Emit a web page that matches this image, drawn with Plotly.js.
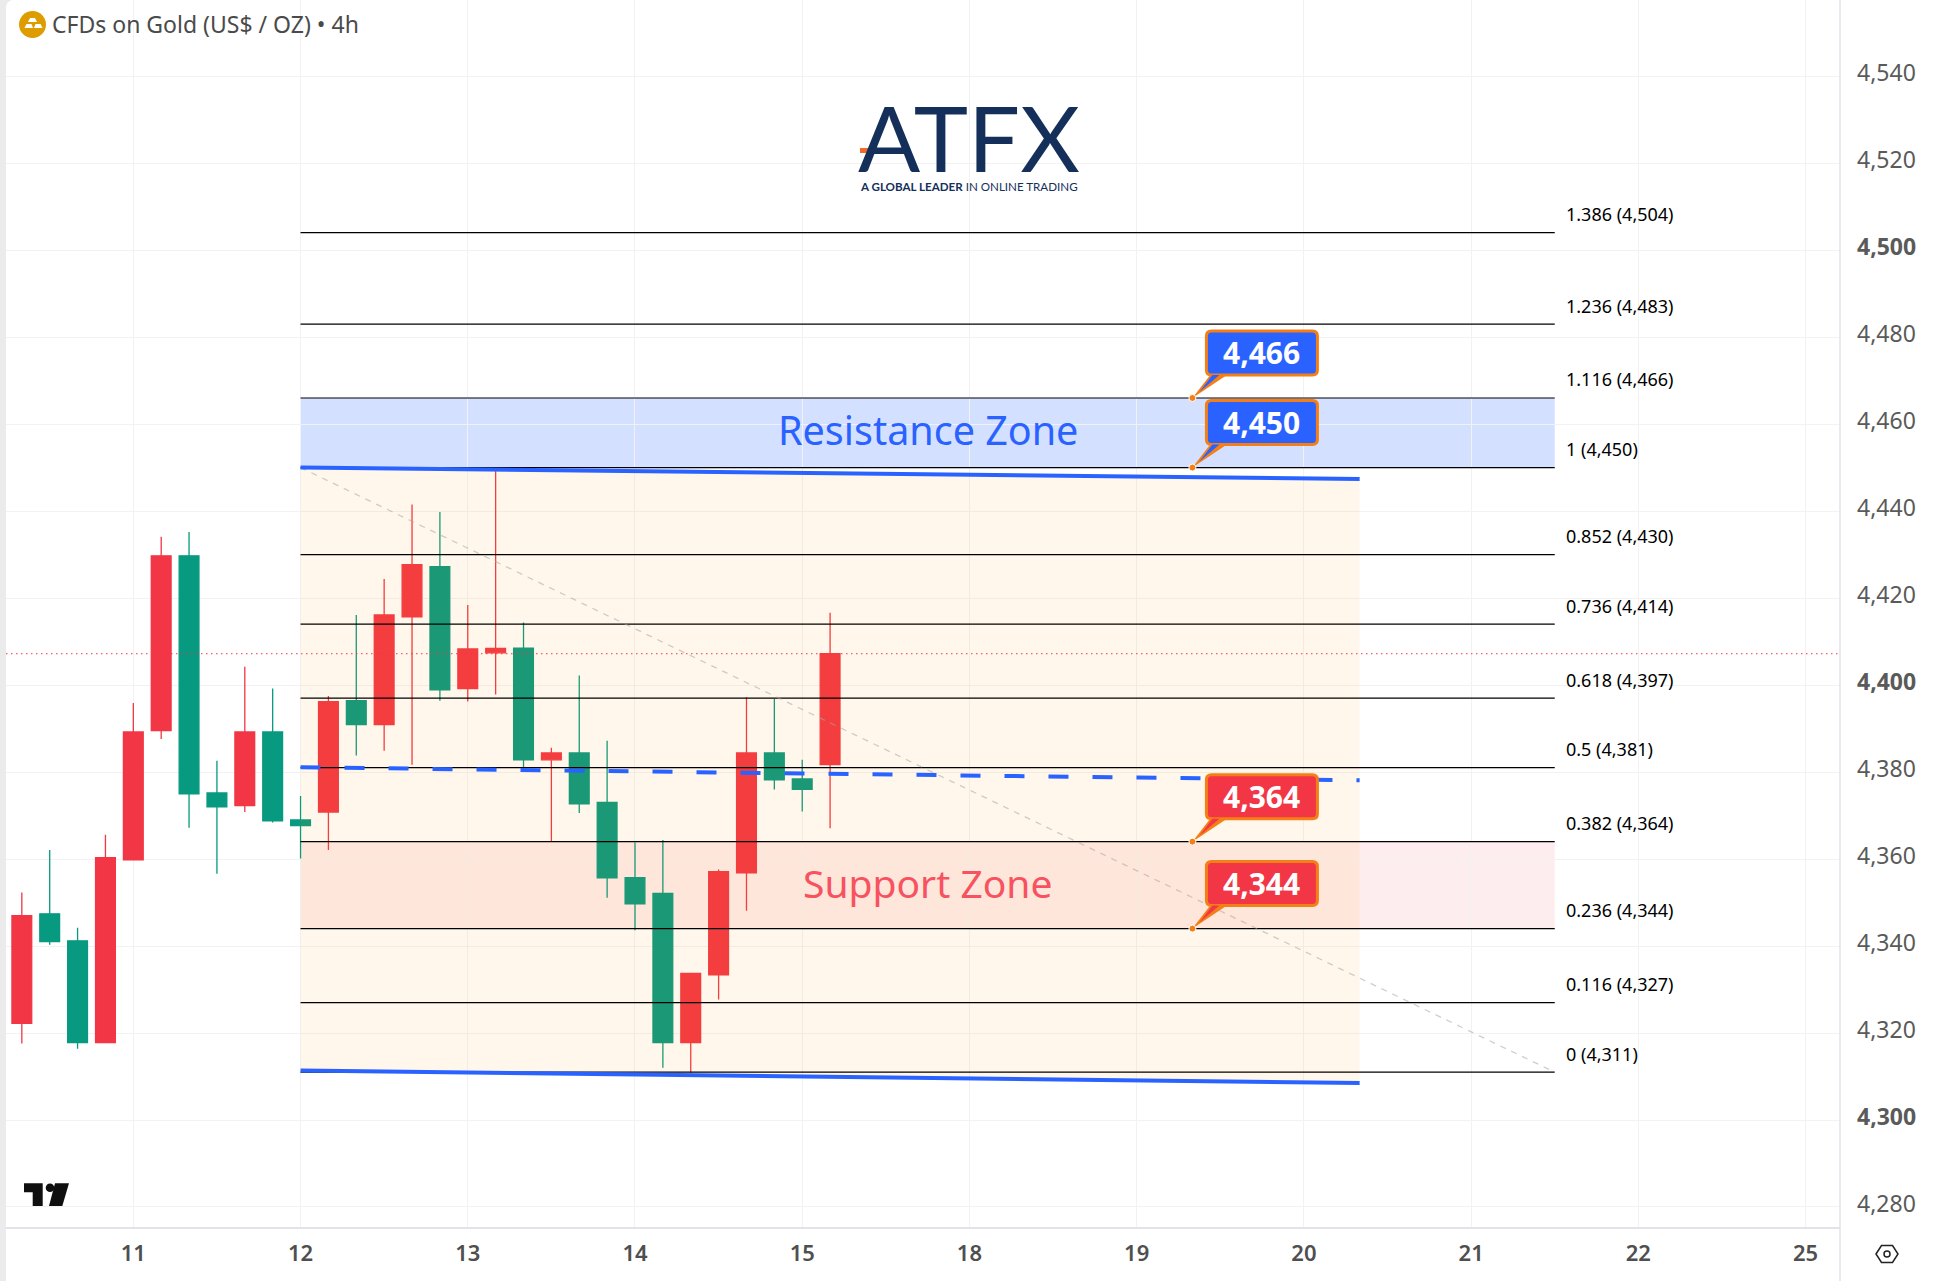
<!DOCTYPE html>
<html>
<head>
<meta charset="utf-8">
<script src="https://cdn.plot.ly/plotly-3.0.1.min.js"></script>
<style>
  html, body { margin: 0; padding: 0; background: #ebebeb; overflow: hidden; }
  #miDiv { position: absolute; left: 6px; top: 0; width: 1929px; height: 1281px; background: #fff; border-top-left-radius: 8px; overflow: hidden; }
  /* las etiquetas del eje y van un poco por encima de su linea */
  #miDiv .ytick { transform: translateY(-2.7px); }
</style>
</head>
<body>
<div id="miDiv"></div>
<script>
// velas de 4h, indice 0 = dia 11
const barIndex = [-4,-3,-2,-1,0,1,2,3,4,5,6,7,8,9,10,11,12,13,14,15,16,17,18,19,20,21,22,23,24,25];
const opens  = [4322.2,4347.4,4341.2,4317.8,4359.8,4389.5,4429.7,4375.2,4372.3,4389.2,4369.0,4370.8,4396.4,4390.9,4415.7,4427.2,4399.2,4407.4,4408.5,4382.8,4384.4,4373.0,4355.7,4352.1,4317.8,4333.4,4356.8,4384.4,4378.4,4381.7];
const highs  = [4352.3,4362.1,4344.2,4365.6,4395.9,4434.1,4435.2,4382.6,4404.2,4399.2,4374.5,4397.5,4416.1,4424.4,4441.5,4439.8,4418.4,4449.9,4414.4,4385.6,4402.2,4387.2,4363.8,4364.4,4333.7,4357.6,4397.2,4396.8,4382.8,4416.6];
const lows   = [4317.6,4340.3,4316.4,4317.8,4359.8,4387.6,4367.2,4356.6,4370.8,4368.4,4360.1,4362.1,4383.8,4384.9,4381.7,4396.4,4396.2,4397.8,4380.3,4364.1,4370.6,4351.1,4343.6,4312.0,4310.9,4327.7,4348.1,4376.0,4370.9,4367.1];
const closes = [4347.0,4341.0,4317.8,4360.3,4389.2,4429.7,4375.0,4372.0,4389.2,4368.8,4367.7,4396.2,4390.9,4416.1,4427.7,4398.9,4408.3,4408.4,4382.8,4384.4,4372.7,4355.7,4349.7,4317.8,4333.7,4357.1,4384.4,4378.2,4376.0,4407.2];
const lastPrice = 4407.2;

// ejes
const xTickVals = [0,6,12,18,24,30,36,42,48,54,60];
const xTickText = ['11','12','13','14','15','18','19','20','21','22','25'];
const yTickVals = [4280,4300,4320,4340,4360,4380,4400,4420,4440,4460,4480,4500,4520,4540];
const yTickText = ['4,280','<b>4,300</b>','4,320','4,340','4,360','4,380','<b>4,400</b>','4,420','4,440','4,460','4,480','<b>4,500</b>','4,520','4,540'];

// fibonacci
const fibRatios = ['1.386','1.236','1.116','1','0.852','0.736','0.618','0.5','0.382','0.236','0.116','0'];
const fibPrices = [4504,4483,4466,4450,4430,4414,4397,4381,4364,4344,4327,4311];
const fibX = [6,51];

// canal
const channelX = [6,44];
const channelTop = [4450,4447.4];
const channelMid = [4381.1,4378.1];
const channelBottom = [4311.4,4308.5];

// zonas
const resistanceZone = [4450,4466];
const supportZone = [4344,4364];

// etiquetas
const calloutPrices = [4466,4450,4364,4344];
const calloutText = ['4,466','4,450','4,364','4,344'];
const calloutColors = ['#2962ff','#2962ff','#f23645','#f23645'];
const calloutX = 38.0;

const AZUL = '#2962ff';
const ROJO = '#f23645';
const VERDE = '#089981';
const NARANJA = '#f57f17';
const FUENTE = '"Noto Sans", sans-serif';
const xMin = -4.568, xMax = 61.235;

var data = [];

// fondo del canal
data.push({
  x: channelX.concat(channelX.slice().reverse()),
  y: channelTop.concat(channelBottom.slice().reverse()),
  mode: 'lines', fill: 'toself', fillcolor: 'rgba(255,152,0,0.08)',
  line: {width: 0}, hoverinfo: 'skip'
});

// niveles fib
for (let i = 0; i < fibPrices.length; i++) {
  data.push({
    x: fibX, y: [fibPrices[i], fibPrices[i]], mode: 'lines',
    line: {color: '#000', width: 1.2}, hoverinfo: 'skip'
  });
}

// linea de tendencia del fib
data.push({
  x: fibX, y: [fibPrices[3], fibPrices[11]], mode: 'lines',
  line: {color: 'rgba(170,165,165,0.55)', width: 1.3, dash: '6px,6px'}, hoverinfo: 'skip'
});

// precio actual
data.push({
  x: [xMin, xMax], y: [lastPrice, lastPrice], mode: 'lines',
  line: {color: ROJO, width: 1, dash: '1.5px,3.5px'}, hoverinfo: 'skip'
});

// lineas del canal
data.push({x: channelX, y: channelTop, mode: 'lines', line: {color: AZUL, width: 4}, hoverinfo: 'skip'});
data.push({x: channelX, y: channelBottom, mode: 'lines', line: {color: AZUL, width: 4}, hoverinfo: 'skip'});
data.push({x: channelX, y: channelMid, mode: 'lines', line: {color: AZUL, width: 4, dash: '20px,24px'}, hoverinfo: 'skip'});

// velas (rojo sube, verde baja)
data.push({
  type: 'candlestick',
  x: barIndex, open: opens, high: highs, low: lows, close: closes,
  whiskerwidth: 0,
  increasing: {line: {color: ROJO, width: 1.3}, fillcolor: ROJO},
  decreasing: {line: {color: VERDE, width: 1.3}, fillcolor: VERDE},
  hoverinfo: 'skip'
});

var annotations = [];
var shapes = [];

// zonas
shapes.push({type: 'rect', layer: 'below', x0: fibX[0], x1: fibX[1], y0: resistanceZone[0], y1: resistanceZone[1], fillcolor: 'rgba(41,98,255,0.2)', line: {width: 0}});
shapes.push({type: 'rect', layer: 'below', x0: fibX[0], x1: fibX[1], y0: supportZone[0], y1: supportZone[1], fillcolor: 'rgba(242,54,69,0.09)', line: {width: 0}});

annotations.push({x: 28.5, y: 4458.6, text: 'Resistance Zone', showarrow: false, font: {family: FUENTE, size: 39.5, color: AZUL}});
annotations.push({x: 28.5, y: 4354.6, text: 'Support Zone', showarrow: false, font: {family: FUENTE, size: 39, color: '#f7525f'}});

// textos fib
for (let i = 0; i < fibPrices.length; i++) {
  annotations.push({
    x: 51.34, y: fibPrices[i], xanchor: 'left', yanchor: 'middle', yshift: 18.5,
    text: fibRatios[i] + ' (' + fibPrices[i].toString().replace(/(\d)(\d{3})$/, '$1,$2') + ')',
    showarrow: false, font: {family: FUENTE, size: 18, color: '#000'}
  });
}

// globos de precio
for (let i = 0; i < calloutPrices.length; i++) {
  let base = {xref: 'x', yref: 'y', xsizemode: 'pixel', ysizemode: 'pixel', xanchor: calloutX, yanchor: calloutPrices[i], type: 'path'};
  shapes.push(Object.assign({}, base, {
    path: 'M 19 67 L 120 67 Q 125 67 125 62 L 125 28 Q 125 23 120 23 L 19 23 Q 14 23 14 28 L 14 62 Q 14 67 19 67 Z',
    fillcolor: calloutColors[i], line: {color: NARANJA, width: 3}
  }));
  shapes.push(Object.assign({}, base, {path: 'M 0 0 L 17 22 L 33 22 Z', fillcolor: NARANJA, line: {width: 0}}));
  shapes.push(Object.assign({}, base, {path: 'M 7 6 L 20 23 L 27 23 Z', fillcolor: calloutColors[i], line: {width: 0}}));
  annotations.push({
    x: calloutX, y: calloutPrices[i], xshift: 69.5, yshift: 45, xanchor: 'center', yanchor: 'middle',
    text: '<b>' + calloutText[i] + '</b>', showarrow: false,
    font: {family: FUENTE, size: 30, color: '#fff'}
  });
}

// titulo
annotations.push({
  xref: 'paper', yref: 'paper', x: (50 - 6) / 1834, y: 1 - 24 / 1227.3, xanchor: 'left', yanchor: 'middle',
  text: 'CFDs on Gold (US$ / OZ) • 4h', showarrow: false,
  font: {family: FUENTE, size: 23, color: '#4a4a4a'}
});

// logo
annotations.push({
  xref: 'paper', yref: 'paper', x: (969 - 6) / 1834, y: 1 - 137 / 1227.3, xanchor: 'center', yanchor: 'middle',
  text: 'ATFX', showarrow: false, font: {family: 'Lato, sans-serif', size: 92, weight: 400, color: '#14305a'}
});
annotations.push({
  xref: 'paper', yref: 'paper', x: (969 - 6) / 1834, y: 1 - 187 / 1227.3, xanchor: 'center', yanchor: 'middle',
  text: '<b>A GLOBAL LEADER</b> IN ONLINE TRADING', showarrow: false,
  font: {family: 'Lato, sans-serif', size: 11.6, color: '#14305a'}
});

// iconos dibujados en pixeles desde la esquina del grafico
function icono(path, color) {
  return {type: 'path', xref: 'paper', yref: 'paper', xsizemode: 'pixel', ysizemode: 'pixel', xanchor: 0, yanchor: 1,
    path: path, fillcolor: color, line: {width: 0}};
}
function circulo(cx, cy, r, color, borde) {
  return {type: 'circle', xref: 'paper', yref: 'paper', xsizemode: 'pixel', ysizemode: 'pixel', xanchor: 0, yanchor: 1,
    x0: cx - 6 - r, x1: cx - 6 + r, y0: -cy - r, y1: -cy + r,
    fillcolor: color, line: borde ? {color: borde, width: 1.5} : {width: 0}};
}
function p(pts) {
  return pts.map((q, i) => (i ? 'L ' : 'M ') + (q[0] - 6) + ' ' + (-q[1])).join(' ') + ' Z';
}
// oro
shapes.push(circulo(32.5, 24.5, 13.5, '#dd9d00'));
shapes.push(icono(p([[30,18],[35,18],[37,22],[28,22]]), '#fff'));
shapes.push(icono(p([[26.5,24],[31.5,24],[33,28],[24.5,28]]), '#fff'));
shapes.push(icono(p([[35.5,24],[40.5,24],[42.5,28],[34,28]]), '#fff'));
// marca tradingview
shapes.push(icono(p([[24,1183.3],[42.7,1183.3],[42.7,1206],[32.7,1206],[32.7,1192.3],[24,1192.3]]), '#0f0f0f'));
shapes.push(circulo(50, 1187.7, 4.3, '#0f0f0f'));
shapes.push(icono(p([[55,1183.3],[69,1183.3],[62.3,1206],[49,1206]]), '#0f0f0f'));
// barra naranja del logo
shapes.push(icono(p([[860,148],[904,148],[904,153],[860,153]]), '#f26a2a'));
// borde derecho del area del grafico
shapes.push({type: 'line', xref: 'paper', yref: 'paper', x0: 1, x1: 1, y0: -0.045, y1: 1, line: {color: '#e0e3eb', width: 1.5}});
// icono de ajustes
shapes.push({type: 'path', xref: 'paper', yref: 'paper', xsizemode: 'pixel', ysizemode: 'pixel', xanchor: 0, yanchor: 1,
  path: p([[1876,1254],[1881.5,1245.5],[1892.5,1245.5],[1898,1254],[1892.5,1262.5],[1881.5,1262.5]]),
  fillcolor: 'rgba(0,0,0,0)', line: {color: '#222', width: 1.5}});
shapes.push(circulo(1887, 1254, 3, 'rgba(0,0,0,0)', '#222'));

// puntos de anclaje encima de los globos
for (let i = 0; i < calloutPrices.length; i++) {
  shapes.push({type: 'circle', xref: 'x', yref: 'y', xsizemode: 'pixel', ysizemode: 'pixel', xanchor: calloutX, yanchor: calloutPrices[i],
    x0: -3.5, x1: 3.5, y0: -3.5, y1: 3.5, fillcolor: NARANJA, line: {color: '#fff', width: 1}});
}

var layout = {
  width: 1929,
  height: 1281,
  margin: {l: 0, r: 95, t: 0, b: 53.7, pad: 0},
  paper_bgcolor: '#fff',
  plot_bgcolor: '#fff',
  showlegend: false,
  boxmode: 'overlay',
  boxgap: 0.29,
  boxgroupgap: 0,
  xaxis: {
    range: [xMin, xMax], tickmode: 'array', tickvals: xTickVals, ticktext: xTickText,
    gridcolor: '#f2f2f2', gridwidth: 1, zeroline: false, showline: true, linecolor: '#e0e3eb', linewidth: 1.5,
    ticks: '', ticklabelstandoff: 6, rangeslider: {visible: false},
    tickfont: {family: FUENTE, size: 22, color: '#4f4f4f', weight: 600}
  },
  yaxis: {
    side: 'right', range: [4275.4, 4557.5], tickmode: 'array', tickvals: yTickVals, ticktext: yTickText,
    gridcolor: '#f2f2f2', gridwidth: 1, zeroline: false, showline: false,
    ticks: '', ticklabelstandoff: 16,
    tickfont: {family: FUENTE, size: 23, color: '#5a5a5a'}
  },
  shapes: shapes,
  annotations: annotations
};

Plotly.newPlot('miDiv', data, layout, {staticPlot: true, displayModeBar: false});
</script>
</body>
</html>
